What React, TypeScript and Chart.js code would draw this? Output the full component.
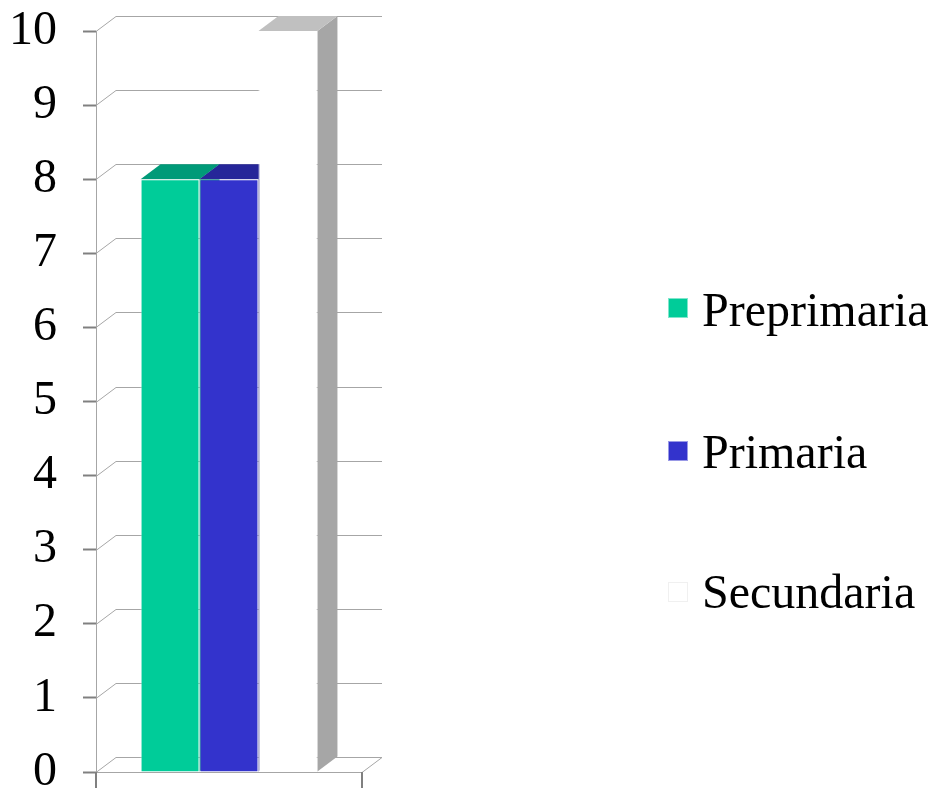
import React, { useEffect, useRef } from "react";
import { Chart, registerables } from "chart.js";

Chart.register(...registerables);

const categories = [""];
const seriesNames = ["Preprimaria", "Primaria", "Secundaria"];
const preprimaria = [8];
const primaria = [8];
const secundaria = [10];
const yMin = 0;
const yMax = 10;
const yStep = 1;

const frontColors = ["#00cc99", "#3333cc", "#ffffff"];
const topColors = ["#009a78", "#262699", "#c0c0c0"];
const sideColors = ["#009a78", "#1f1f80", "#a6a6a6"];
const borderColors = ["rgba(255,255,255,0.55)", "rgba(255,255,255,0.55)", "#ffffff"];

const FONT = "'Liberation Serif', 'Times New Roman', serif";
const DX = 20;
const DY = -15;

const threeD = {
  id: "threeD",
  beforeDatasetsDraw(chart: any) {
    const ctx = chart.ctx;
    const area = chart.chartArea;
    const ys = chart.scales.y;
    ctx.save();
    ctx.strokeStyle = "#a6a6a6";
    ctx.lineWidth = 1;
    ys.ticks.forEach((t: any) => {
      const py = Math.round(ys.getPixelForValue(t.value)) + 0.5;
      ctx.beginPath();
      ctx.moveTo(area.left, py);
      ctx.lineTo(area.left + DX, py + DY);
      ctx.lineTo(area.right + DX, py + DY);
      if (t.value === yMin) {
        ctx.lineTo(area.right, py);
        ctx.lineTo(area.left, py);
      }
      ctx.stroke();
    });
    // bottom tick marks
    const by = ys.getPixelForValue(yMin);
    ctx.strokeStyle = "#808080";
    ctx.lineWidth = 2;
    [area.left, area.right].forEach((x: number) => {
      ctx.beginPath();
      ctx.moveTo(x, by);
      ctx.lineTo(x, by + 18);
      ctx.stroke();
    });
    // 3D side and top faces
    chart.data.datasets.forEach((ds: any, i: number) => {
      const meta = chart.getDatasetMeta(i);
      meta.data.forEach((el: any) => {
        const p = el.getProps(["x", "y", "base", "width"], true);
        const l = p.x - p.width / 2;
        const r = p.x + p.width / 2;
        ctx.fillStyle = sideColors[i];
        ctx.beginPath();
        ctx.moveTo(r, p.y);
        ctx.lineTo(r + DX, p.y + DY);
        ctx.lineTo(r + DX, p.base + DY);
        ctx.lineTo(r, p.base);
        ctx.closePath();
        ctx.fill();
        ctx.fillStyle = topColors[i];
        ctx.beginPath();
        ctx.moveTo(l, p.y);
        ctx.lineTo(r, p.y);
        ctx.lineTo(r + DX, p.y + DY);
        ctx.lineTo(l + DX, p.y + DY);
        ctx.closePath();
        ctx.fill();
      });
    });
    ctx.restore();
  },
};

export default function App() {
  const ref = useRef<HTMLCanvasElement | null>(null);
  useEffect(() => {
    if (!ref.current) return;
    const values = [preprimaria, primaria, secundaria];
    const chart = new Chart(ref.current, {
      type: "bar",
      data: {
        labels: categories,
        datasets: seriesNames.map((name, i) => ({
          label: name,
          data: values[i],
          backgroundColor: frontColors[i],
          borderColor: borderColors[i],
          borderWidth: 1,
          categoryPercentage: 0.665,
          barPercentage: 1,
        })),
      },
      options: {
        animation: false,
        responsive: false,
        layout: { padding: { left: 0, right: 569, top: 31, bottom: 16 } },
        plugins: { legend: { display: false }, tooltip: { enabled: false } },
        scales: {
          x: { display: false },
          y: {
            min: yMin,
            max: yMax,
            afterFit: (s: any) => {
              s.width = 96;
              s.paddingTop = 0;
              s.paddingBottom = 0;
            },
            ticks: {
              stepSize: yStep,
              autoSkip: false,
              padding: 26,
              color: "#000000",
              font: { family: FONT, size: 48 },
            },
            grid: {
              drawOnChartArea: false,
              drawTicks: true,
              tickLength: 13,
              tickColor: "#808080",
              tickWidth: 2,
            },
            border: { display: true, color: "#a6a6a6", width: 1 },
          },
        },
      },
      plugins: [threeD],
    });
    return () => chart.destroy();
  }, []);

  const legendTops = [286, 428, 568];
  const boxTops = [298, 441, 582];
  return (
    <div style={{ position: "absolute", left: 0, top: 0, width: 931, height: 788, background: "#fff" }}>
      <canvas ref={ref} width={931} height={788} style={{ display: "block" }} />
      {seriesNames.map((name, i) => (
        <React.Fragment key={name}>
          <div
            style={{
              position: "absolute",
              left: 668,
              top: boxTops[i],
              width: 20,
              height: 20,
              boxSizing: "border-box",
              background: frontColors[i],
              border: i === 2 ? "1px solid #f0f0f0" : "1px solid rgba(255,255,255,0.5)",
            }}
          />
          <div
            style={{
              position: "absolute",
              left: 702,
              top: legendTops[i],
              fontFamily: FONT,
              fontSize: 48,
              lineHeight: "48px",
              color: "#000",
              whiteSpace: "nowrap",
            }}
          >
            {name}
          </div>
        </React.Fragment>
      ))}
    </div>
  );
}
